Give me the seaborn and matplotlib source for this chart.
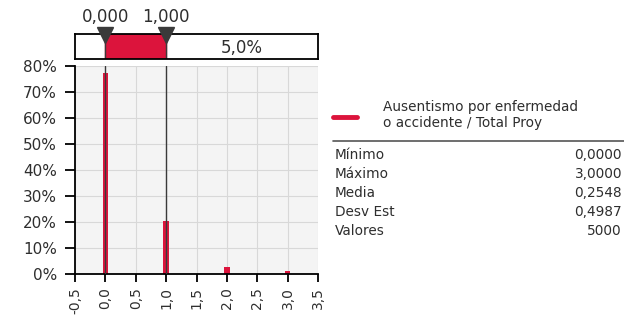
import numpy as np
import pandas as pd
import matplotlib
matplotlib.use("Agg")
import matplotlib.pyplot as plt
import seaborn as sns
from matplotlib.lines import Line2D

# datos del histograma (frecuencia relativa por valor)
valores = [0, 1, 2, 3]
probabilidades = [0.775, 0.205, 0.028, 0.012]

# marcadores del intervalo superior
limite_izq = 0.0
limite_der = 1.0
pct_derecha = "5,0%"

x_ticks = [-0.5, 0.0, 0.5, 1.0, 1.5, 2.0, 2.5, 3.0, 3.5]
y_ticks = [0, 0.1, 0.2, 0.3, 0.4, 0.5, 0.6, 0.7, 0.8]

serie = "Ausentismo por enfermedad\no accidente / Total Proy"
stats_nombres = ["Mínimo", "Máximo", "Media", "Desv Est", "Valores"]
stats_valores = ["0,0000", "3,0000", "0,2548", "0,4987", "5000"]

rojo = "#DC143C"
gris = "#3a3a3a"
texto = "#2e2e2e"

sns.set_style("ticks")
plt.rcParams['font.family'] = ['DejaVu Sans']

W, H = 624, 321
fig = plt.figure(figsize=(W / 100, H / 100), dpi=100)

def px_ax(x0, y0, x1, y1):
    return fig.add_axes([x0 / W, 1 - y1 / H, (x1 - x0) / W, (y1 - y0) / H])

# ---- histograma
ax = px_ax(75, 66, 318, 274)
ax.set_facecolor("#F4F4F4")
df = pd.DataFrame({"valor": valores, "prob": probabilidades})
sns.barplot(data=df, x="valor", y="prob", native_scale=True, width=0.09,
            color=rojo, linewidth=0, saturation=1, ax=ax, zorder=2)
ax.set_xlim(-0.5, 3.5)
ax.set_ylim(0, 0.8)
ax.set_xticks(x_ticks)
ax.set_xticklabels([f"{v:.1f}".replace(".", ",") for v in x_ticks], rotation=90)
ax.set_yticks(y_ticks)
ax.set_yticklabels([f"{int(round(v * 100))}%" for v in y_ticks])
ax.grid(True, color="#D8D8D8", linewidth=0.8)
ax.set_axisbelow(True)
ax.set_xlabel("")
ax.set_ylabel("")
for s in ["top", "right"]:
    ax.spines[s].set_visible(False)
for s in ["left", "bottom"]:
    ax.spines[s].set_color("black")
    ax.spines[s].set_linewidth(1.3)
ax.tick_params(axis="x", labelsize=10, length=6, width=1.3, color="black", labelcolor=texto)
ax.tick_params(axis="y", labelsize=11, length=7, width=1.3, pad=6, color="black", labelcolor=texto)
for xv in [limite_izq, limite_der]:
    ax.axvline(xv, color=gris, linewidth=1.0, zorder=3)

# ---- banda superior
bx = px_ax(75, 34, 318, 59)
bx.set_xlim(-0.5, 3.5)
bx.set_ylim(0, 1)
bx.axvspan(limite_izq, limite_der, color=rojo, zorder=1)
for xv in [limite_izq, limite_der]:
    bx.axvline(xv, color=gris, linewidth=1.0, zorder=2)
bx.plot([limite_izq, limite_der], [0.98, 0.98], "v", color=gris, markersize=12,
        clip_on=False, zorder=3)
bx.text((limite_der + 3.5) / 2, 0.45, pct_derecha, ha="center", va="center",
        fontsize=12, color=texto)
for xv in [limite_izq, limite_der]:
    bx.text(xv, 1.66, f"{xv:.3f}".replace(".", ","), ha="center", va="center",
            fontsize=12, color=texto, clip_on=False)
bx.set_xticks([])
bx.set_yticks([])
for s in bx.spines.values():
    s.set_color("black")
    s.set_linewidth(1.3)

# ---- leyenda y estadisticas
fig.add_artist(Line2D([333 / W, 357 / W], [1 - 117 / H, 1 - 117 / H], color=rojo, linewidth=3.5))
fig.text(383 / W, 1 - 115 / H, serie, fontsize=9.8, va="center", ha="left",
         color=texto, linespacing=1.15)
fig.add_artist(Line2D([333 / W, 624 / W], [1 - 141 / H, 1 - 141 / H], color="#555555", linewidth=1.2))
for i, (n, v) in enumerate(zip(stats_nombres, stats_valores)):
    y = 1 - (155 + 19 * i) / H
    fig.text(335 / W, y, n, fontsize=9.8, va="center", ha="left", color=texto)
    fig.text(622 / W, y, v, fontsize=9.8, va="center", ha="right", color=texto)

fig.savefig("out.png", dpi=100)
